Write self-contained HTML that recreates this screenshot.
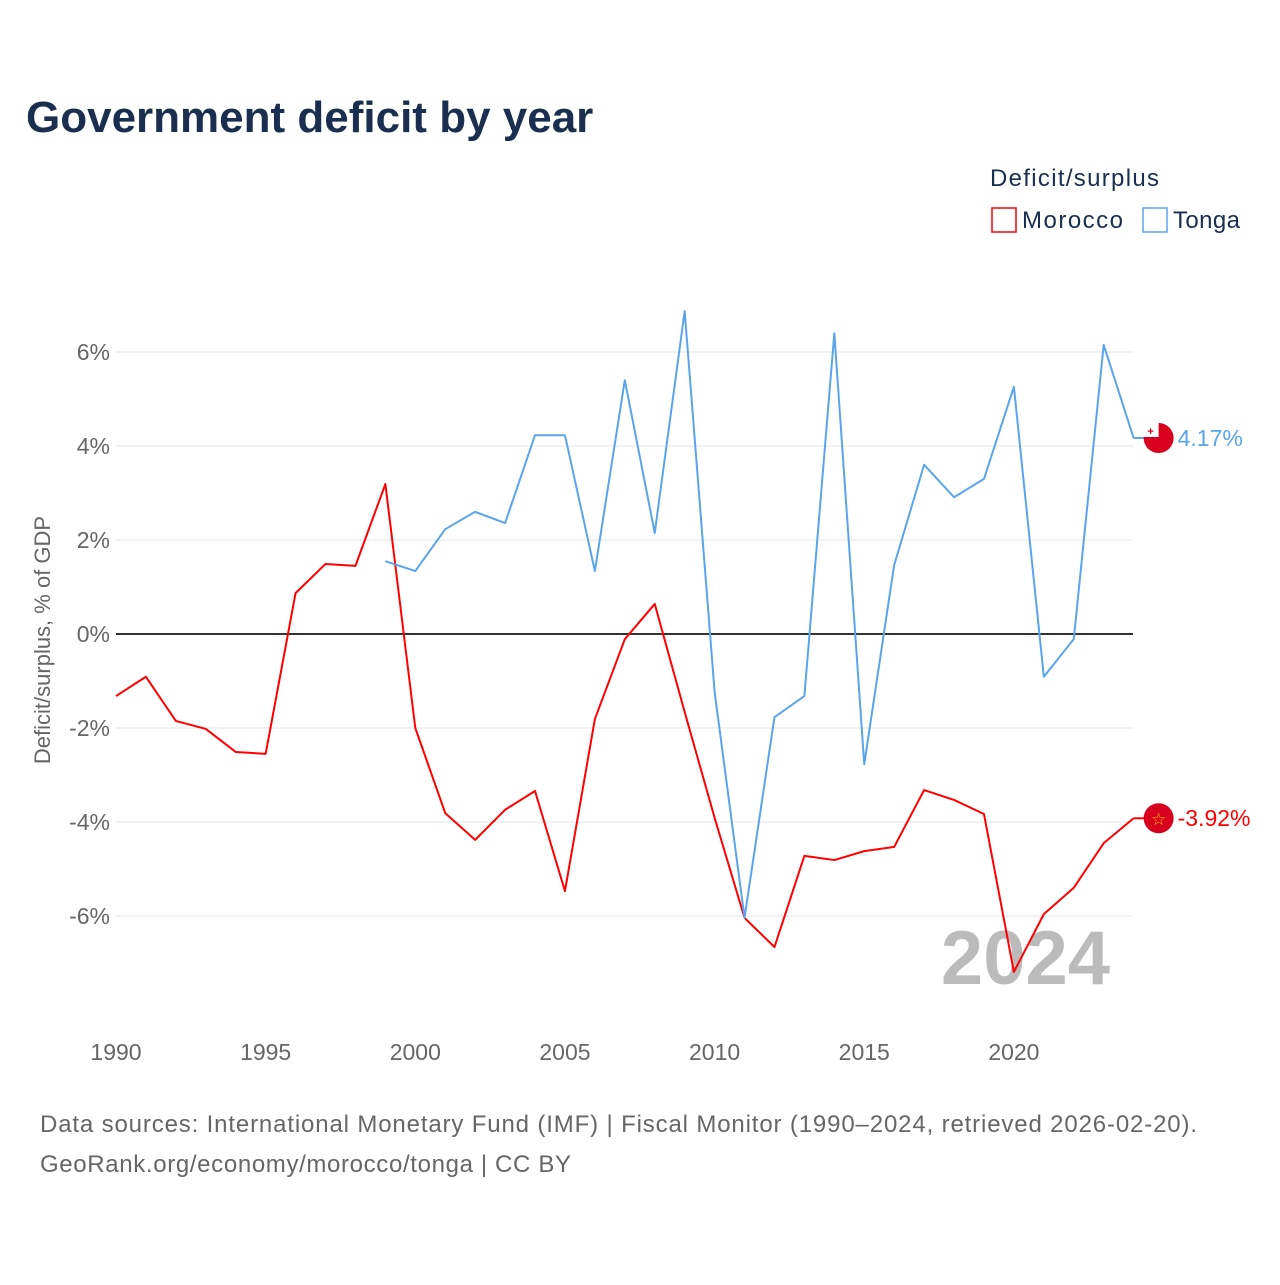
<!DOCTYPE html>
<html><head><meta charset="utf-8"><style>
body{margin:0;width:1280px;height:1280px;background:#fff;font-family:"Liberation Sans",sans-serif;overflow:hidden}
</style></head><body>
<svg width="1280" height="1280" id="svg">
<text x="26" y="132" font-size="44" font-weight="bold" fill="#1a2e4f">Government deficit by year</text>
<text x="990" y="186" font-size="24" fill="#1a2e4f" textLength="169">Deficit/surplus</text>
<g><rect x="992" y="208" width="24" height="24" fill="none" stroke="#ff0000" stroke-width="1.5"/><text x="1022" y="228" font-size="24" fill="#1a2e4f" textLength="101">Morocco</text></g>
<g><rect x="1143" y="208" width="24" height="24" fill="none" stroke="#5aa5ea" stroke-width="1.5"/><text x="1173" y="228" font-size="24" fill="#1a2e4f" textLength="67">Tonga</text></g>
<text transform="translate(50,640) rotate(-90)" text-anchor="middle" font-size="22" fill="#666">Deficit/surplus, % of GDP</text>
<text x="1110" y="984" text-anchor="end" font-size="76" font-weight="bold" fill="#bbb">2024</text>
<g id="grid"></g><g id="lines"></g>
<text x="40" y="1132" font-size="24" fill="#666" textLength="1157">Data sources: International Monetary Fund (IMF) | Fiscal Monitor (1990–2024, retrieved 2026-02-20).</text>
<text x="40" y="1172" font-size="24" fill="#666" textLength="531">GeoRank.org/economy/morocco/tonga | CC BY</text>
</svg>
<script>
const years=[];for(let y=1990;y<=2024;y++)years.push(y);
const morocco=[-1.32,-0.91,-1.85,-2.02,-2.51,-2.55,0.87,1.49,1.45,3.19,-2.0,-3.81,-4.38,-3.74,-3.34,-5.47,-1.81,-0.11,0.64,-1.66,-3.91,-6.04,-6.66,-4.72,-4.81,-4.62,-4.53,-3.32,-3.53,-3.83,-7.19,-5.96,-5.40,-4.45,-3.92];
const tongaYears=[];for(let y=1999;y<=2024;y++)tongaYears.push(y);
const tonga=[1.55,1.34,2.23,2.60,2.36,4.23,4.23,1.34,5.40,2.15,6.87,-1.23,-6.04,-1.77,-1.32,6.40,-2.77,1.47,3.60,2.91,3.30,5.26,-0.91,-0.11,6.15,4.17];
const yTicks=[-6,-4,-2,0,2,4,6];
const xTicks=[1990,1995,2000,2005,2010,2015,2020];
const NS="http://www.w3.org/2000/svg";
const X=y=>116+(y-1990)*29.93, Y=v=>634-v*47;
const grid=document.getElementById('grid'), lines=document.getElementById('lines');
function mk(tag,at,par){const e=document.createElementNS(NS,tag);for(const k in at)e.setAttribute(k,at[k]);par.appendChild(e);return e;}
yTicks.forEach(v=>{
 const l=mk('line',{x1:116,x2:1133,y1:Y(v),y2:Y(v),stroke:v===0?'#333':'#e6e6e6','stroke-width':v===0?2:1},grid);
 
 
 const t=mk('text',{x:110,y:Y(v)+8,'text-anchor':'end','font-size':23,fill:'#666'},grid);t.textContent=v+'%';
 
 
});
xTicks.forEach(v=>{
 const t=mk('text',{x:X(v),y:1060,'text-anchor':'middle','font-size':23,fill:'#666'},grid);t.textContent=v;
 
 
});
function series(xs,vs,col,name){
 const p=mk('polyline',{points:xs.map((y,i)=>X(y)+','+Y(vs[i])).join(' '),fill:'none',stroke:col,'stroke-width':2,'stroke-linejoin':'round'},lines);
 
 
 const lx=X(xs[xs.length-1]),ly=Y(vs[vs.length-1]);
 mk('line',{x1:lx,x2:lx+16,y1:ly,y2:ly,stroke:col,'stroke-width':2},lines);
 const c=mk('circle',{cx:lx+25,cy:ly,r:15,fill:'#d8001e'},lines);
 
 
 if(name==='tonga'){mk('rect',{x:lx+10,y:ly-15,width:15,height:14,fill:'#fff'},lines);mk('text',{x:lx+17,y:ly-3,'text-anchor':'middle','font-size':11,fill:'#d8001e','font-weight':'bold'},lines).textContent='+';}
 else{mk('text',{x:lx+25,y:ly+7,'text-anchor':'middle','font-size':17,fill:'#f5c000'},lines).textContent='☆';}
 const t=mk('text',{x:lx+44,y:ly+8,'font-size':23,fill:col},lines);t.textContent=vs[vs.length-1].toFixed(2)+'%';
 
 
}
series(years,morocco,'#ff0000','morocco');
series(tongaYears,tonga,'#5aa5ea','tonga');
</script>
</body></html>
